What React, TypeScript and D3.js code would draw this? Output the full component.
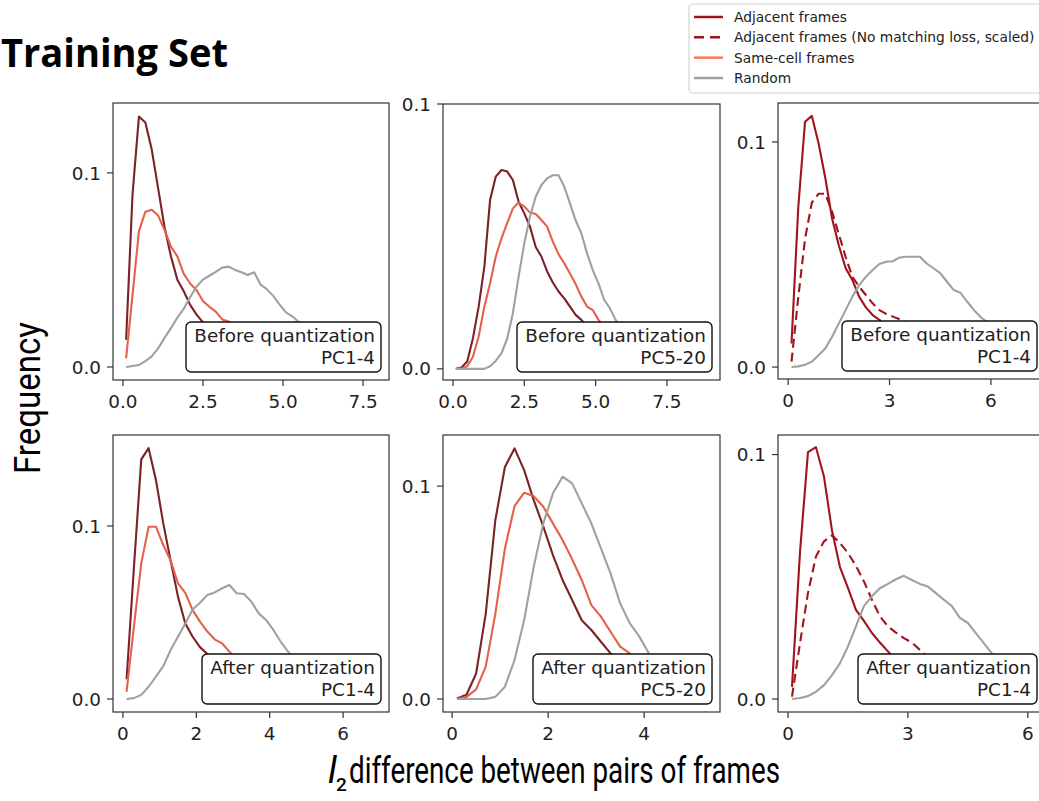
import React from 'react'
import * as d3 from 'd3'

// histogram bin centres shared by every curve
const binCenters = [0.1, 0.3, 0.5, 0.7, 0.9, 1.1, 1.3, 1.5, 1.7, 1.9, 2.1, 2.3, 2.5, 2.7, 2.9, 3.1, 3.3, 3.5, 3.7, 3.9,
  4.1, 4.3, 4.5, 4.7, 4.9, 5.1, 5.3, 5.5, 5.7, 5.9, 6.1, 6.3, 6.5, 6.7, 6.9, 7.1, 7.3, 7.5, 7.7, 7.9]

// top row: before quantization
const p1Adjacent = [0.014, 0.089, 0.129, 0.126, 0.112, 0.092, 0.072, 0.057, 0.045, 0.039, 0.032, 0.027, 0.023, 0.019, 0.016, 0.013, 0.010, 0.008, 0.006, 0.005, 0.004, 0.003, 0.002, 0.002, 0.001]
const p1SameCell = [0.0045, 0.037, 0.070, 0.080, 0.081, 0.078, 0.0706, 0.062, 0.057, 0.048, 0.043, 0.0395, 0.034, 0.031, 0.0285, 0.0245, 0.0234, 0.020, 0.017, 0.014, 0.012, 0.010, 0.008, 0.006, 0.005, 0.004, 0.003]
const p1Random = [0, 0.0005, 0.001, 0.003, 0.0055, 0.0096, 0.015, 0.020, 0.0254, 0.030, 0.036, 0.0415, 0.045, 0.047, 0.049, 0.0512, 0.0517, 0.050, 0.0488, 0.0474, 0.0488, 0.0424, 0.040, 0.0365, 0.032, 0.028, 0.026, 0.023, 0.020, 0.017, 0.014, 0.012, 0.010, 0.008, 0.006, 0.005, 0.004, 0.003]

const p2Adjacent = [0, 0.0005, 0.0028, 0.0116, 0.0235, 0.0386, 0.0638, 0.0726, 0.0751, 0.0745, 0.0713, 0.0631, 0.0587, 0.0537, 0.046, 0.0424, 0.0368, 0.0326, 0.0292, 0.0266, 0.0235, 0.0204, 0.0185, 0.016, 0.013, 0.011, 0.009, 0.007, 0.005, 0.004, 0.003, 0.002]
const p2SameCell = [0, 0, 0.001, 0.0046, 0.0122, 0.0235, 0.0323, 0.0424, 0.0493, 0.055, 0.0606, 0.0628, 0.0613, 0.059, 0.0585, 0.0562, 0.0537, 0.048, 0.0433, 0.0399, 0.036, 0.032, 0.0273, 0.0235, 0.0222, 0.0185, 0.016, 0.013, 0.011, 0.009, 0.007, 0.005, 0.004, 0.003]
const p2Random = [0, 0, 0, 0, 0, 0, 0.001, 0.003, 0.0059, 0.0114, 0.021, 0.0348, 0.0474, 0.0575, 0.065, 0.0694, 0.0719, 0.0731, 0.0731, 0.0688, 0.0625, 0.056, 0.0512, 0.0436, 0.0373, 0.0323, 0.026, 0.0229, 0.0185, 0.016, 0.013, 0.011, 0.009, 0.007, 0.005, 0.004, 0.003, 0.002, 0.001]

const p3Adjacent = [0.0105, 0.071, 0.109, 0.1116, 0.0994, 0.084, 0.066, 0.054, 0.044, 0.0387, 0.0313, 0.0265, 0.0231, 0.021, 0.018, 0.015, 0.012, 0.010, 0.008, 0.006, 0.005, 0.004, 0.003, 0.002]
const p3NoMatch = [0.0024, 0.031, 0.057, 0.073, 0.077, 0.077, 0.069, 0.059, 0.049, 0.0401, 0.0357, 0.032, 0.0283, 0.0253, 0.0236, 0.0224, 0.0212, 0.0199, 0.017, 0.014, 0.012, 0.010, 0.008, 0.006, 0.005, 0.004, 0.003]
const p3Random = [0, 0.0003, 0.001, 0.0024, 0.0053, 0.0083, 0.0135, 0.0194, 0.0253, 0.0313, 0.0364, 0.0401, 0.0431, 0.0458, 0.0468, 0.047, 0.0487, 0.049, 0.049, 0.049, 0.046, 0.0439, 0.0417, 0.0379, 0.0342, 0.033, 0.029, 0.0253, 0.0221, 0.0199, 0.017, 0.014, 0.011, 0.009, 0.007, 0.005]

// bottom row: after quantization
const p4Adjacent = [0.0114, 0.076, 0.1385, 0.145, 0.1266, 0.1015, 0.080, 0.0592, 0.0437, 0.036, 0.030, 0.026, 0.021, 0.017, 0.013, 0.010, 0.008, 0.006, 0.004, 0.003, 0.002]
const p4SameCell = [0.0042, 0.042, 0.0784, 0.0996, 0.0996, 0.089, 0.080, 0.0669, 0.0614, 0.0514, 0.0447, 0.039, 0.0345, 0.0322, 0.0274, 0.023, 0.019, 0.015, 0.012, 0.009, 0.007, 0.005, 0.004, 0.003]
const p4Random = [0, 0.0005, 0.0024, 0.0071, 0.013, 0.019, 0.0283, 0.036, 0.0437, 0.0518, 0.0557, 0.0601, 0.0616, 0.064, 0.0659, 0.0611, 0.0607, 0.0563, 0.0495, 0.0457, 0.0399, 0.0331, 0.0274, 0.023, 0.019, 0.015, 0.012, 0.009, 0.007, 0.005, 0.004, 0.003, 0.002]

const p5Adjacent = [0.0003, 0.002, 0.012, 0.040, 0.084, 0.109, 0.1177, 0.1075, 0.0934, 0.081, 0.0676, 0.0559, 0.0465, 0.037, 0.0324, 0.0269, 0.0214, 0.017, 0.013, 0.010, 0.007, 0.005, 0.003, 0.002]
const p5SameCell = [0, 0.001, 0.0045, 0.0152, 0.040, 0.0707, 0.0906, 0.0969, 0.0953, 0.0903, 0.0825, 0.0747, 0.0656, 0.0559, 0.0441, 0.0387, 0.0316, 0.0246, 0.0214, 0.017, 0.013, 0.010, 0.007, 0.005, 0.003]
const p5Random = [0, 0, 0, 0, 0.001, 0.0058, 0.0183, 0.037, 0.0621, 0.0825, 0.0966, 0.1044, 0.1013, 0.0919, 0.0825, 0.0707, 0.059, 0.0449, 0.0356, 0.0293, 0.0214, 0.017, 0.013, 0.010, 0.007, 0.005]

const p6Adjacent = [0.005, 0.06, 0.101, 0.103, 0.091, 0.069, 0.054, 0.0455, 0.0365, 0.032, 0.027, 0.0231, 0.0195, 0.016, 0.013, 0.010, 0.008, 0.006, 0.004, 0.003]
const p6NoMatch = [0.001, 0.0228, 0.0434, 0.0583, 0.0645, 0.067, 0.0638, 0.0597, 0.0545, 0.0481, 0.0406, 0.0338, 0.0297, 0.0272, 0.0249, 0.0231, 0.0201, 0.017, 0.014, 0.011, 0.009, 0.007, 0.005, 0.004, 0.003]
const p6Random = [0, 0.0004, 0.0012, 0.003, 0.0057, 0.0098, 0.0146, 0.0215, 0.0297, 0.038, 0.042, 0.0453, 0.0471, 0.049, 0.0504, 0.0487, 0.0471, 0.046, 0.0433, 0.0406, 0.038, 0.0332, 0.0311, 0.027, 0.0229, 0.0187, 0.015, 0.012, 0.009, 0.007]

const ticksHalf = [0, 2.5, 5, 7.5]
const ticksTwo = [0, 2, 4, 6]
const ticksTwoShort = [0, 2, 4]
const ticksThree = [0, 3, 6]
const yTicks = [0, 0.1]

const legendLabels = ['Adjacent frames', 'Adjacent frames (No matching loss, scaled)', 'Same-cell frames', 'Random']

const C_MAROON = '#7a2226'
const C_CRIMSON = '#a0141e'
const C_SALMON = '#e5604b'
const C_SALMON_LEG = '#f47a5c'
const C_GRAY = '#a0a0a0'

const TICK_FONT = 'DejaVu Sans, sans-serif'
const FS = 18.4

type Series = { values: number[]; color: string; dash?: string }
type PanelCfg = {
  id: string
  left: number; top: number; right: number; bottom: number
  xDomain: [number, number]; yDomain: [number, number]
  xTicks: number[]; xFmt: string
  series: Series[]
  label: [string, string]; boxWidth: number
}

const panels: PanelCfg[] = [
  { id: 'p1', left: 113, top: 103, right: 389, bottom: 380, xDomain: [-0.31, 8.31], yDomain: [-0.0067, 0.136],
    xTicks: ticksHalf, xFmt: '.1f', label: ['Before quantization', 'PC1-4'], boxWidth: 195,
    series: [{ values: p1Adjacent, color: C_MAROON }, { values: p1SameCell, color: C_SALMON }, { values: p1Random, color: C_GRAY }] },
  { id: 'p2', left: 443, top: 104, right: 720, bottom: 380, xDomain: [-0.35, 9.36], yDomain: [-0.0042, 0.1],
    xTicks: ticksHalf, xFmt: '.1f', label: ['Before quantization', 'PC5-20'], boxWidth: 195,
    series: [{ values: p2Adjacent, color: C_MAROON }, { values: p2SameCell, color: C_SALMON }, { values: p2Random, color: C_GRAY }] },
  { id: 'p3', left: 778, top: 103, right: 1045, bottom: 379, xDomain: [-0.3, 7.6], yDomain: [-0.0053, 0.1173],
    xTicks: ticksThree, xFmt: 'd', label: ['Before quantization', 'PC1-4'], boxWidth: 195,
    series: [{ values: p3Adjacent, color: C_CRIMSON }, { values: p3NoMatch, color: C_CRIMSON, dash: '9,5' }, { values: p3Random, color: C_GRAY }] },
  { id: 'p4', left: 113, top: 435, right: 389, bottom: 712, xDomain: [-0.27, 7.25], yDomain: [-0.0075, 0.1526],
    xTicks: ticksTwo, xFmt: 'd', label: ['After quantization', 'PC1-4'], boxWidth: 179,
    series: [{ values: p4Adjacent, color: C_MAROON }, { values: p4SameCell, color: C_SALMON }, { values: p4Random, color: C_GRAY }] },
  { id: 'p5', left: 443, top: 435, right: 720, bottom: 712, xDomain: [-0.19, 5.58], yDomain: [-0.0061, 0.124],
    xTicks: ticksTwoShort, xFmt: 'd', label: ['After quantization', 'PC5-20'], boxWidth: 179,
    series: [{ values: p5Adjacent, color: C_MAROON }, { values: p5SameCell, color: C_SALMON }, { values: p5Random, color: C_GRAY }] },
  { id: 'p6', left: 778, top: 435, right: 1045, bottom: 712, xDomain: [-0.25, 6.43], yDomain: [-0.0053, 0.108],
    xTicks: ticksThree, xFmt: 'd', label: ['After quantization', 'PC1-4'], boxWidth: 179,
    series: [{ values: p6Adjacent, color: C_CRIMSON }, { values: p6NoMatch, color: C_CRIMSON, dash: '9,5' }, { values: p6Random, color: C_GRAY }] },
]

function Panel({ cfg }: { cfg: PanelCfg }) {
  const x = d3.scaleLinear().domain(cfg.xDomain).range([cfg.left, cfg.right])
  const y = d3.scaleLinear().domain(cfg.yDomain).range([cfg.bottom, cfg.top])
  const line = d3.line<number>().x((d, i) => x(binCenters[i])).y(d => y(d))
  const fmtX = d3.format(cfg.xFmt)
  const fmtY = d3.format('.1f')
  const w = cfg.right - cfg.left
  const h = cfg.bottom - cfg.top
  const bx = cfg.right - 8 - cfg.boxWidth
  const by = cfg.bottom - 8 - 50
  return (
    <g>
      <defs>
        <clipPath id={'clip-' + cfg.id}>
          <rect x={cfg.left} y={cfg.top} width={w} height={h} />
        </clipPath>
      </defs>
      <g clipPath={`url(#clip-${cfg.id})`}>
        {cfg.series.map((s, i) => (
          <path key={i} d={line(s.values) || ''} fill="none" stroke={s.color} strokeWidth={2.1}
            strokeDasharray={s.dash} strokeLinejoin="round" />
        ))}
      </g>
      <rect x={cfg.left} y={cfg.top} width={w} height={h} fill="none" stroke="#333" strokeWidth={1.2} />
      {yTicks.map(t => (
        <g key={'y' + t}>
          <line x1={cfg.left - 6} x2={cfg.left} y1={y(t)} y2={y(t)} stroke="#333" strokeWidth={1.2} />
          <text x={cfg.left - 12} y={y(t)} dy="0.36em" textAnchor="end" fontFamily={TICK_FONT} fontSize={FS} fill="#222">{fmtY(t)}</text>
        </g>
      ))}
      {cfg.xTicks.map(t => (
        <g key={'x' + t}>
          <line x1={x(t)} x2={x(t)} y1={cfg.bottom} y2={cfg.bottom + 6} stroke="#333" strokeWidth={1.2} />
          <text x={x(t)} y={cfg.bottom + 28} textAnchor="middle" fontFamily={TICK_FONT} fontSize={FS} fill="#222">{fmtX(t)}</text>
        </g>
      ))}
      <rect x={bx} y={by} width={cfg.boxWidth} height={50} rx={5} fill="#fff" stroke="#111" strokeWidth={1.4} />
      <text x={cfg.right - 14} y={by + 20} textAnchor="end" fontFamily={TICK_FONT} fontSize={FS} fill="#222">{cfg.label[0]}</text>
      <text x={cfg.right - 14} y={by + 42} textAnchor="end" fontFamily={TICK_FONT} fontSize={FS} fill="#222">{cfg.label[1]}</text>
    </g>
  )
}

function Legend() {
  const rows = d3.scalePoint<string>().domain(legendLabels).range([17, 78])
  const styles = [
    { color: C_CRIMSON, dash: undefined },
    { color: C_CRIMSON, dash: '10,6' },
    { color: C_SALMON_LEG, dash: undefined },
    { color: C_GRAY, dash: undefined },
  ]
  return (
    <g>
      <rect x={689} y={4} width={380} height={89} rx={4} fill="#fff" stroke="#d4d4d4" strokeWidth={1.2} />
      {legendLabels.map((lab, i) => (
        <g key={lab}>
          <line x1={694} x2={723} y1={rows(lab)} y2={rows(lab)} stroke={styles[i].color} strokeWidth={2.5}
            strokeDasharray={styles[i].dash} />
          <text x={734} y={rows(lab)} dy="0.36em" fontFamily={TICK_FONT} fontSize={13.8} fill="#222">{lab}</text>
        </g>
      ))}
    </g>
  )
}

export default function App() {
  return (
    <svg width={1039} height={801} style={{ position: 'absolute', left: 0, top: 0, background: '#fff' }}>
      <rect width={1039} height={801} fill="#fff" />
      <text x={1} y={67} fontFamily="Open Sans, sans-serif" fontWeight={700} fontSize={40}
        textLength={227} lengthAdjust="spacingAndGlyphs" fill="#000">Training Set</text>
      {panels.map(p => <Panel key={p.id} cfg={p} />)}
      <Legend />
      <text transform="translate(40,398) rotate(-90)" textAnchor="middle" fontFamily="Roboto, sans-serif"
        fontSize={37} textLength={152} lengthAdjust="spacingAndGlyphs" fill="#000">Frequency</text>
      <text x={328} y={783} fontFamily="Roboto, sans-serif" fontStyle="italic" fontSize={37} fill="#000">l</text>
      <text x={336} y={791} fontFamily="Roboto, sans-serif" fontWeight={500} fontSize={19} fill="#000">2</text>
      <text x={349} y={783} fontFamily="Roboto, sans-serif" fontSize={37} textLength={431}
        lengthAdjust="spacingAndGlyphs" fill="#000">difference between pairs of frames</text>
    </svg>
  )
}
